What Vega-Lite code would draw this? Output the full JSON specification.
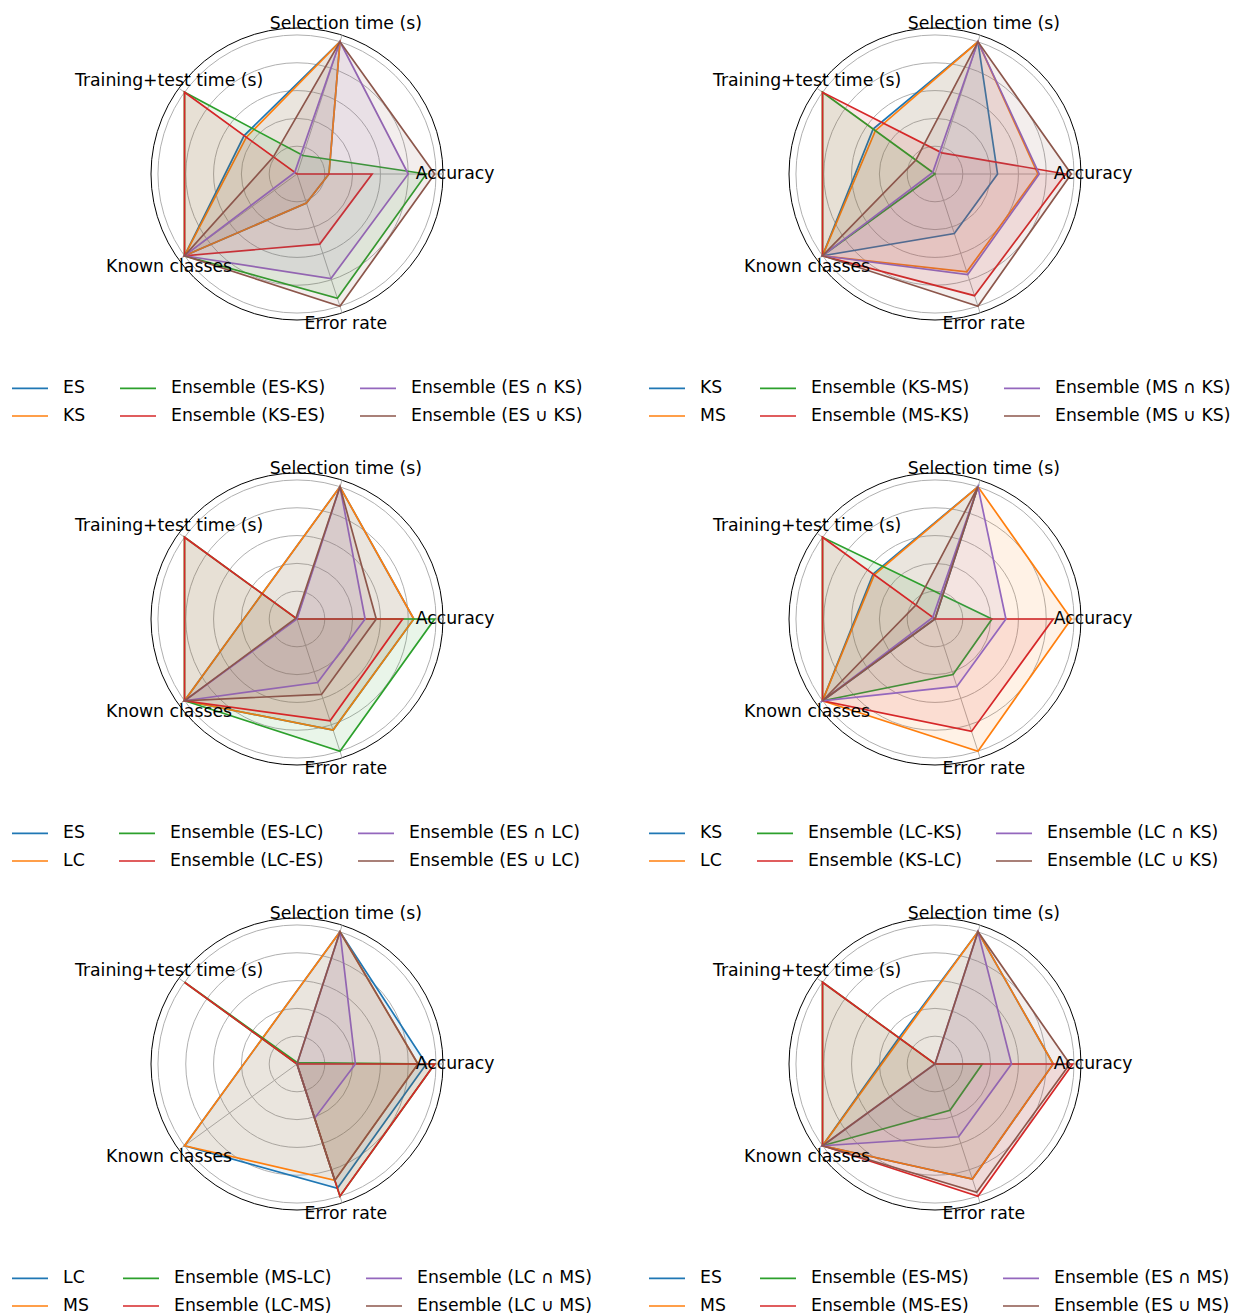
{
  "$schema": "https://vega.github.io/schema/vega-lite/v6.json",
  "background": "white",
  "padding": {"left": 11, "top": 14, "right": 5, "bottom": 5},
  "config": {"view": {"stroke": null}, "font": "DejaVu Sans"},
  "columns": 2,
  "spacing": {"row": 153, "column": 346},
  "bounds": "flush",
  "resolve": {"scale": {"stroke": "independent", "fill": "independent", "x": "independent", "y": "independent"}, "legend": {"stroke": "independent", "fill": "independent"}},
  "datasets": {
    "rings": [{"r": 0.2}, {"r": 0.4}, {"r": 0.6}, {"r": 0.8}, {"r": 1.0}, {"r": 1.05}],
    "metrics": [
      {"m": "Accuracy", "k": 0},
      {"m": "Selection time (s)", "k": 1},
      {"m": "Training+test time (s)", "k": 2},
      {"m": "Known classes", "k": 3},
      {"m": "Error rate", "k": 4}
    ],
    "radar": [
      {"p": 1, "s": "ES", "m": "Accuracy", "v": 0.23}, {"p": 1, "s": "ES", "m": "Selection time (s)", "v": 1.0}, {"p": 1, "s": "ES", "m": "Training+test time (s)", "v": 0.47}, {"p": 1, "s": "ES", "m": "Known classes", "v": 1.0}, {"p": 1, "s": "ES", "m": "Error rate", "v": 0.22},
      {"p": 1, "s": "KS", "m": "Accuracy", "v": 0.23}, {"p": 1, "s": "KS", "m": "Selection time (s)", "v": 1.0}, {"p": 1, "s": "KS", "m": "Training+test time (s)", "v": 0.45}, {"p": 1, "s": "KS", "m": "Known classes", "v": 1.0}, {"p": 1, "s": "KS", "m": "Error rate", "v": 0.22},
      {"p": 1, "s": "Ensemble (ES-KS)", "m": "Accuracy", "v": 0.93}, {"p": 1, "s": "Ensemble (ES-KS)", "m": "Selection time (s)", "v": 0.14}, {"p": 1, "s": "Ensemble (ES-KS)", "m": "Training+test time (s)", "v": 1.0}, {"p": 1, "s": "Ensemble (ES-KS)", "m": "Known classes", "v": 1.0}, {"p": 1, "s": "Ensemble (ES-KS)", "m": "Error rate", "v": 0.94},
      {"p": 1, "s": "Ensemble (KS-ES)", "m": "Accuracy", "v": 0.54}, {"p": 1, "s": "Ensemble (KS-ES)", "m": "Selection time (s)", "v": 0.0}, {"p": 1, "s": "Ensemble (KS-ES)", "m": "Training+test time (s)", "v": 1.0}, {"p": 1, "s": "Ensemble (KS-ES)", "m": "Known classes", "v": 1.0}, {"p": 1, "s": "Ensemble (KS-ES)", "m": "Error rate", "v": 0.53},
      {"p": 1, "s": "Ensemble (ES ∩ KS)", "m": "Accuracy", "v": 0.80}, {"p": 1, "s": "Ensemble (ES ∩ KS)", "m": "Selection time (s)", "v": 1.0}, {"p": 1, "s": "Ensemble (ES ∩ KS)", "m": "Training+test time (s)", "v": 0.02}, {"p": 1, "s": "Ensemble (ES ∩ KS)", "m": "Known classes", "v": 1.0}, {"p": 1, "s": "Ensemble (ES ∩ KS)", "m": "Error rate", "v": 0.79},
      {"p": 1, "s": "Ensemble (ES ∪ KS)", "m": "Accuracy", "v": 0.99}, {"p": 1, "s": "Ensemble (ES ∪ KS)", "m": "Selection time (s)", "v": 1.0}, {"p": 1, "s": "Ensemble (ES ∪ KS)", "m": "Training+test time (s)", "v": 0.21}, {"p": 1, "s": "Ensemble (ES ∪ KS)", "m": "Known classes", "v": 1.0}, {"p": 1, "s": "Ensemble (ES ∪ KS)", "m": "Error rate", "v": 1.0},

      {"p": 2, "s": "KS", "m": "Accuracy", "v": 0.45}, {"p": 2, "s": "KS", "m": "Selection time (s)", "v": 1.0}, {"p": 2, "s": "KS", "m": "Training+test time (s)", "v": 0.55}, {"p": 2, "s": "KS", "m": "Known classes", "v": 1.0}, {"p": 2, "s": "KS", "m": "Error rate", "v": 0.45},
      {"p": 2, "s": "MS", "m": "Accuracy", "v": 0.74}, {"p": 2, "s": "MS", "m": "Selection time (s)", "v": 1.0}, {"p": 2, "s": "MS", "m": "Training+test time (s)", "v": 0.53}, {"p": 2, "s": "MS", "m": "Known classes", "v": 1.0}, {"p": 2, "s": "MS", "m": "Error rate", "v": 0.74},
      {"p": 2, "s": "Ensemble (KS-MS)", "m": "Accuracy", "v": 0.0}, {"p": 2, "s": "Ensemble (KS-MS)", "m": "Selection time (s)", "v": 0.0}, {"p": 2, "s": "Ensemble (KS-MS)", "m": "Training+test time (s)", "v": 1.0}, {"p": 2, "s": "Ensemble (KS-MS)", "m": "Known classes", "v": 1.0}, {"p": 2, "s": "Ensemble (KS-MS)", "m": "Error rate", "v": 0.0},
      {"p": 2, "s": "Ensemble (MS-KS)", "m": "Accuracy", "v": 0.94}, {"p": 2, "s": "Ensemble (MS-KS)", "m": "Selection time (s)", "v": 0.16}, {"p": 2, "s": "Ensemble (MS-KS)", "m": "Training+test time (s)", "v": 1.0}, {"p": 2, "s": "Ensemble (MS-KS)", "m": "Known classes", "v": 1.0}, {"p": 2, "s": "Ensemble (MS-KS)", "m": "Error rate", "v": 0.92},
      {"p": 2, "s": "Ensemble (MS ∩ KS)", "m": "Accuracy", "v": 0.75}, {"p": 2, "s": "Ensemble (MS ∩ KS)", "m": "Selection time (s)", "v": 1.0}, {"p": 2, "s": "Ensemble (MS ∩ KS)", "m": "Training+test time (s)", "v": 0.02}, {"p": 2, "s": "Ensemble (MS ∩ KS)", "m": "Known classes", "v": 1.0}, {"p": 2, "s": "Ensemble (MS ∩ KS)", "m": "Error rate", "v": 0.76},
      {"p": 2, "s": "Ensemble (MS ∪ KS)", "m": "Accuracy", "v": 0.98}, {"p": 2, "s": "Ensemble (MS ∪ KS)", "m": "Selection time (s)", "v": 1.0}, {"p": 2, "s": "Ensemble (MS ∪ KS)", "m": "Training+test time (s)", "v": 0.17}, {"p": 2, "s": "Ensemble (MS ∪ KS)", "m": "Known classes", "v": 1.0}, {"p": 2, "s": "Ensemble (MS ∪ KS)", "m": "Error rate", "v": 1.0},

      {"p": 3, "s": "ES", "m": "Accuracy", "v": 0.84}, {"p": 3, "s": "ES", "m": "Selection time (s)", "v": 1.0}, {"p": 3, "s": "ES", "m": "Training+test time (s)", "v": 0.31}, {"p": 3, "s": "ES", "m": "Known classes", "v": 1.0}, {"p": 3, "s": "ES", "m": "Error rate", "v": 0.84},
      {"p": 3, "s": "LC", "m": "Accuracy", "v": 0.84}, {"p": 3, "s": "LC", "m": "Selection time (s)", "v": 1.0}, {"p": 3, "s": "LC", "m": "Training+test time (s)", "v": 0.31}, {"p": 3, "s": "LC", "m": "Known classes", "v": 1.0}, {"p": 3, "s": "LC", "m": "Error rate", "v": 0.84},
      {"p": 3, "s": "Ensemble (ES-LC)", "m": "Accuracy", "v": 0.99}, {"p": 3, "s": "Ensemble (ES-LC)", "m": "Selection time (s)", "v": 0.0}, {"p": 3, "s": "Ensemble (ES-LC)", "m": "Training+test time (s)", "v": 1.0}, {"p": 3, "s": "Ensemble (ES-LC)", "m": "Known classes", "v": 1.0}, {"p": 3, "s": "Ensemble (ES-LC)", "m": "Error rate", "v": 1.0},
      {"p": 3, "s": "Ensemble (LC-ES)", "m": "Accuracy", "v": 0.76}, {"p": 3, "s": "Ensemble (LC-ES)", "m": "Selection time (s)", "v": 0.0}, {"p": 3, "s": "Ensemble (LC-ES)", "m": "Training+test time (s)", "v": 1.0}, {"p": 3, "s": "Ensemble (LC-ES)", "m": "Known classes", "v": 1.0}, {"p": 3, "s": "Ensemble (LC-ES)", "m": "Error rate", "v": 0.77},
      {"p": 3, "s": "Ensemble (ES ∩ LC)", "m": "Accuracy", "v": 0.49}, {"p": 3, "s": "Ensemble (ES ∩ LC)", "m": "Selection time (s)", "v": 1.0}, {"p": 3, "s": "Ensemble (ES ∩ LC)", "m": "Training+test time (s)", "v": 0.0}, {"p": 3, "s": "Ensemble (ES ∩ LC)", "m": "Known classes", "v": 1.0}, {"p": 3, "s": "Ensemble (ES ∩ LC)", "m": "Error rate", "v": 0.48},
      {"p": 3, "s": "Ensemble (ES ∪ LC)", "m": "Accuracy", "v": 0.57}, {"p": 3, "s": "Ensemble (ES ∪ LC)", "m": "Selection time (s)", "v": 1.0}, {"p": 3, "s": "Ensemble (ES ∪ LC)", "m": "Training+test time (s)", "v": 0.01}, {"p": 3, "s": "Ensemble (ES ∪ LC)", "m": "Known classes", "v": 1.0}, {"p": 3, "s": "Ensemble (ES ∪ LC)", "m": "Error rate", "v": 0.57},

      {"p": 4, "s": "KS", "m": "Accuracy", "v": 0.0}, {"p": 4, "s": "KS", "m": "Selection time (s)", "v": 1.0}, {"p": 4, "s": "KS", "m": "Training+test time (s)", "v": 0.55}, {"p": 4, "s": "KS", "m": "Known classes", "v": 1.0}, {"p": 4, "s": "KS", "m": "Error rate", "v": 0.0},
      {"p": 4, "s": "LC", "m": "Accuracy", "v": 0.98}, {"p": 4, "s": "LC", "m": "Selection time (s)", "v": 1.0}, {"p": 4, "s": "LC", "m": "Training+test time (s)", "v": 0.54}, {"p": 4, "s": "LC", "m": "Known classes", "v": 1.0}, {"p": 4, "s": "LC", "m": "Error rate", "v": 1.0},
      {"p": 4, "s": "Ensemble (LC-KS)", "m": "Accuracy", "v": 0.41}, {"p": 4, "s": "Ensemble (LC-KS)", "m": "Selection time (s)", "v": 0.18}, {"p": 4, "s": "Ensemble (LC-KS)", "m": "Training+test time (s)", "v": 1.0}, {"p": 4, "s": "Ensemble (LC-KS)", "m": "Known classes", "v": 1.0}, {"p": 4, "s": "Ensemble (LC-KS)", "m": "Error rate", "v": 0.42},
      {"p": 4, "s": "Ensemble (KS-LC)", "m": "Accuracy", "v": 0.85}, {"p": 4, "s": "Ensemble (KS-LC)", "m": "Selection time (s)", "v": 0.0}, {"p": 4, "s": "Ensemble (KS-LC)", "m": "Training+test time (s)", "v": 1.0}, {"p": 4, "s": "Ensemble (KS-LC)", "m": "Known classes", "v": 1.0}, {"p": 4, "s": "Ensemble (KS-LC)", "m": "Error rate", "v": 0.85},
      {"p": 4, "s": "Ensemble (LC ∩ KS)", "m": "Accuracy", "v": 0.51}, {"p": 4, "s": "Ensemble (LC ∩ KS)", "m": "Selection time (s)", "v": 1.0}, {"p": 4, "s": "Ensemble (LC ∩ KS)", "m": "Training+test time (s)", "v": 0.02}, {"p": 4, "s": "Ensemble (LC ∩ KS)", "m": "Known classes", "v": 1.0}, {"p": 4, "s": "Ensemble (LC ∩ KS)", "m": "Error rate", "v": 0.51},
      {"p": 4, "s": "Ensemble (LC ∪ KS)", "m": "Accuracy", "v": 0.0}, {"p": 4, "s": "Ensemble (LC ∪ KS)", "m": "Selection time (s)", "v": 1.0}, {"p": 4, "s": "Ensemble (LC ∪ KS)", "m": "Training+test time (s)", "v": 0.17}, {"p": 4, "s": "Ensemble (LC ∪ KS)", "m": "Known classes", "v": 1.0}, {"p": 4, "s": "Ensemble (LC ∪ KS)", "m": "Error rate", "v": 0.0},

      {"p": 5, "s": "LC", "m": "Accuracy", "v": 0.93}, {"p": 5, "s": "LC", "m": "Selection time (s)", "v": 1.0}, {"p": 5, "s": "LC", "m": "Training+test time (s)", "v": 0.31}, {"p": 5, "s": "LC", "m": "Known classes", "v": 1.0}, {"p": 5, "s": "LC", "m": "Error rate", "v": 0.94},
      {"p": 5, "s": "MS", "m": "Accuracy", "v": 0.87}, {"p": 5, "s": "MS", "m": "Selection time (s)", "v": 1.0}, {"p": 5, "s": "MS", "m": "Training+test time (s)", "v": 0.31}, {"p": 5, "s": "MS", "m": "Known classes", "v": 1.0}, {"p": 5, "s": "MS", "m": "Error rate", "v": 0.88},
      {"p": 5, "s": "Ensemble (MS-LC)", "m": "Accuracy", "v": 0.99}, {"p": 5, "s": "Ensemble (MS-LC)", "m": "Selection time (s)", "v": 0.01}, {"p": 5, "s": "Ensemble (MS-LC)", "m": "Training+test time (s)", "v": 1.0}, {"p": 5, "s": "Ensemble (MS-LC)", "m": "Known classes", "v": 0.0}, {"p": 5, "s": "Ensemble (MS-LC)", "m": "Error rate", "v": 1.0},
      {"p": 5, "s": "Ensemble (LC-MS)", "m": "Accuracy", "v": 0.99}, {"p": 5, "s": "Ensemble (LC-MS)", "m": "Selection time (s)", "v": 0.0}, {"p": 5, "s": "Ensemble (LC-MS)", "m": "Training+test time (s)", "v": 1.0}, {"p": 5, "s": "Ensemble (LC-MS)", "m": "Known classes", "v": 0.0}, {"p": 5, "s": "Ensemble (LC-MS)", "m": "Error rate", "v": 1.0},
      {"p": 5, "s": "Ensemble (LC ∩ MS)", "m": "Accuracy", "v": 0.42}, {"p": 5, "s": "Ensemble (LC ∩ MS)", "m": "Selection time (s)", "v": 1.0}, {"p": 5, "s": "Ensemble (LC ∩ MS)", "m": "Training+test time (s)", "v": 0.0}, {"p": 5, "s": "Ensemble (LC ∩ MS)", "m": "Known classes", "v": 0.0}, {"p": 5, "s": "Ensemble (LC ∩ MS)", "m": "Error rate", "v": 0.41},
      {"p": 5, "s": "Ensemble (LC ∪ MS)", "m": "Accuracy", "v": 0.87}, {"p": 5, "s": "Ensemble (LC ∪ MS)", "m": "Selection time (s)", "v": 1.0}, {"p": 5, "s": "Ensemble (LC ∪ MS)", "m": "Training+test time (s)", "v": 0.0}, {"p": 5, "s": "Ensemble (LC ∪ MS)", "m": "Known classes", "v": 0.0}, {"p": 5, "s": "Ensemble (LC ∪ MS)", "m": "Error rate", "v": 0.88},

      {"p": 6, "s": "ES", "m": "Accuracy", "v": 0.85}, {"p": 6, "s": "ES", "m": "Selection time (s)", "v": 1.0}, {"p": 6, "s": "ES", "m": "Training+test time (s)", "v": 0.32}, {"p": 6, "s": "ES", "m": "Known classes", "v": 1.0}, {"p": 6, "s": "ES", "m": "Error rate", "v": 0.87},
      {"p": 6, "s": "MS", "m": "Accuracy", "v": 0.85}, {"p": 6, "s": "MS", "m": "Selection time (s)", "v": 1.0}, {"p": 6, "s": "MS", "m": "Training+test time (s)", "v": 0.31}, {"p": 6, "s": "MS", "m": "Known classes", "v": 1.0}, {"p": 6, "s": "MS", "m": "Error rate", "v": 0.87},
      {"p": 6, "s": "Ensemble (ES-MS)", "m": "Accuracy", "v": 0.34}, {"p": 6, "s": "Ensemble (ES-MS)", "m": "Selection time (s)", "v": 0.0}, {"p": 6, "s": "Ensemble (ES-MS)", "m": "Training+test time (s)", "v": 1.0}, {"p": 6, "s": "Ensemble (ES-MS)", "m": "Known classes", "v": 1.0}, {"p": 6, "s": "Ensemble (ES-MS)", "m": "Error rate", "v": 0.35},
      {"p": 6, "s": "Ensemble (MS-ES)", "m": "Accuracy", "v": 0.99}, {"p": 6, "s": "Ensemble (MS-ES)", "m": "Selection time (s)", "v": 0.0}, {"p": 6, "s": "Ensemble (MS-ES)", "m": "Training+test time (s)", "v": 1.0}, {"p": 6, "s": "Ensemble (MS-ES)", "m": "Known classes", "v": 1.0}, {"p": 6, "s": "Ensemble (MS-ES)", "m": "Error rate", "v": 1.0},
      {"p": 6, "s": "Ensemble (ES ∩ MS)", "m": "Accuracy", "v": 0.55}, {"p": 6, "s": "Ensemble (ES ∩ MS)", "m": "Selection time (s)", "v": 1.0}, {"p": 6, "s": "Ensemble (ES ∩ MS)", "m": "Training+test time (s)", "v": 0.0}, {"p": 6, "s": "Ensemble (ES ∩ MS)", "m": "Known classes", "v": 1.0}, {"p": 6, "s": "Ensemble (ES ∩ MS)", "m": "Error rate", "v": 0.55},
      {"p": 6, "s": "Ensemble (ES ∪ MS)", "m": "Accuracy", "v": 0.97}, {"p": 6, "s": "Ensemble (ES ∪ MS)", "m": "Selection time (s)", "v": 1.0}, {"p": 6, "s": "Ensemble (ES ∪ MS)", "m": "Training+test time (s)", "v": 0.0}, {"p": 6, "s": "Ensemble (ES ∪ MS)", "m": "Known classes", "v": 1.0}, {"p": 6, "s": "Ensemble (ES ∪ MS)", "m": "Error rate", "v": 0.97}
    ]
  },
  "concat": [
    {
      "width": 292, "height": 292,
      "layer": [
        {"data": {"name": "rings"}, "mark": {"type": "point", "shape": "circle", "filled": false, "strokeWidth": 1, "opacity": 1},
         "encoding": {"x": {"datum": 0, "type": "quantitative", "scale": {"domain": [-1.05, 1.05], "nice": false, "zero": false}, "axis": null}, "y": {"datum": 0, "type": "quantitative", "scale": {"domain": [-1.05, 1.05], "nice": false, "zero": false}, "axis": null},
           "size": {"field": "r", "type": "quantitative", "scale": {"type": "pow", "exponent": 2, "domain": [0, 1.05], "range": [0, 85264], "zero": true, "nice": false}, "legend": null}, "stroke": {"condition": {"test": "datum.r > 1.01", "value": "#000000"}, "value": "#b0b0b0"}}},
        {"data": {"name": "metrics"}, "transform": [{"calculate": "datum.k*2*PI/5", "as": "a"}, {"calculate": "1.05*cos(datum.a)", "as": "xe"}, {"calculate": "1.05*sin(datum.a)", "as": "ye"}],
         "mark": {"type": "rule", "color": "#b0b0b0", "strokeWidth": 1},
         "encoding": {"x": {"field": "xe", "type": "quantitative", "scale": {"domain": [-1.05, 1.05], "nice": false, "zero": false}, "axis": null}, "y": {"field": "ye", "type": "quantitative", "scale": {"domain": [-1.05, 1.05], "nice": false, "zero": false}, "axis": null}, "x2": {"datum": 0}, "y2": {"datum": 0}}},
        {"data": {"name": "radar"}, "transform": [{"filter": "datum.p == 1"}, {"calculate": "indexof(['Accuracy','Selection time (s)','Training+test time (s)','Known classes','Error rate'], datum.m)", "as": "k"}, {"calculate": "datum.k*2*PI/5", "as": "a"}, {"calculate": "datum.v*cos(datum.a)", "as": "x"}, {"calculate": "datum.v*sin(datum.a)", "as": "y"}],
         "mark": {"type": "line", "interpolate": "linear-closed", "strokeWidth": 1.7, "fillOpacity": 0.1},
         "encoding": {
           "x": {"field": "x", "type": "quantitative", "scale": {"domain": [-1.05, 1.05], "nice": false, "zero": false}, "axis": null},
           "y": {"field": "y", "type": "quantitative", "scale": {"domain": [-1.05, 1.05], "nice": false, "zero": false}, "axis": null},
           "order": {"field": "k", "type": "quantitative"},
           "stroke": {"field": "s", "type": "nominal", "scale": {"domain": ["ES", "KS", "Ensemble (ES-KS)", "Ensemble (KS-ES)", "Ensemble (ES ∩ KS)", "Ensemble (ES ∪ KS)"], "range": ["#1f77b4", "#ff7f0e", "#2ca02c", "#d62728", "#9467bd", "#8c564b"]},
             "legend": {"orient": "none", "direction": "vertical", "legendX": -140, "legendY": 341, "columns": 3, "title": null, "symbolType": "stroke", "symbolSize": 1296, "symbolStrokeWidth": 1.7, "labelFontSize": 17.3, "labelFont": "DejaVu Sans", "labelColor": "#000000", "labelOffset": 14, "columnPadding": 30, "rowPadding": 0, "labelLimit": 400}},
           "fill": {"field": "s", "type": "nominal", "scale": {"domain": ["Ensemble (ES ∪ KS)", "Ensemble (ES ∩ KS)", "Ensemble (KS-ES)", "Ensemble (ES-KS)", "KS", "ES"], "range": ["#8c564b", "#9467bd", "#d62728", "#2ca02c", "#ff7f0e", "#1f77b4"]}, "legend": null}
         }},
        {"data": {"name": "metrics"}, "transform": [{"calculate": "datum.k*2*PI/5", "as": "a"}, {"calculate": "1.137*cos(datum.a)", "as": "lx"}, {"calculate": "1.137*sin(datum.a)", "as": "ly"}],
         "mark": {"type": "text", "font": "DejaVu Sans", "fontSize": 17.3, "color": "#000000", "align": "center", "baseline": "middle"},
         "encoding": {"x": {"field": "lx", "type": "quantitative", "scale": {"domain": [-1.05, 1.05], "nice": false, "zero": false}, "axis": null}, "y": {"field": "ly", "type": "quantitative", "scale": {"domain": [-1.05, 1.05], "nice": false, "zero": false}, "axis": null}, "text": {"field": "m", "type": "nominal"}}}
      ]
    },
    {
      "width": 292, "height": 292,
      "layer": [
        {"data": {"name": "rings"}, "mark": {"type": "point", "shape": "circle", "filled": false, "strokeWidth": 1, "opacity": 1},
         "encoding": {"x": {"datum": 0, "type": "quantitative", "scale": {"domain": [-1.05, 1.05], "nice": false, "zero": false}, "axis": null}, "y": {"datum": 0, "type": "quantitative", "scale": {"domain": [-1.05, 1.05], "nice": false, "zero": false}, "axis": null},
           "size": {"field": "r", "type": "quantitative", "scale": {"type": "pow", "exponent": 2, "domain": [0, 1.05], "range": [0, 85264], "zero": true, "nice": false}, "legend": null}, "stroke": {"condition": {"test": "datum.r > 1.01", "value": "#000000"}, "value": "#b0b0b0"}}},
        {"data": {"name": "metrics"}, "transform": [{"calculate": "datum.k*2*PI/5", "as": "a"}, {"calculate": "1.05*cos(datum.a)", "as": "xe"}, {"calculate": "1.05*sin(datum.a)", "as": "ye"}],
         "mark": {"type": "rule", "color": "#b0b0b0", "strokeWidth": 1},
         "encoding": {"x": {"field": "xe", "type": "quantitative", "scale": {"domain": [-1.05, 1.05], "nice": false, "zero": false}, "axis": null}, "y": {"field": "ye", "type": "quantitative", "scale": {"domain": [-1.05, 1.05], "nice": false, "zero": false}, "axis": null}, "x2": {"datum": 0}, "y2": {"datum": 0}}},
        {"data": {"name": "radar"}, "transform": [{"filter": "datum.p == 2"}, {"calculate": "indexof(['Accuracy','Selection time (s)','Training+test time (s)','Known classes','Error rate'], datum.m)", "as": "k"}, {"calculate": "datum.k*2*PI/5", "as": "a"}, {"calculate": "datum.v*cos(datum.a)", "as": "x"}, {"calculate": "datum.v*sin(datum.a)", "as": "y"}],
         "mark": {"type": "line", "interpolate": "linear-closed", "strokeWidth": 1.7, "fillOpacity": 0.1},
         "encoding": {
           "x": {"field": "x", "type": "quantitative", "scale": {"domain": [-1.05, 1.05], "nice": false, "zero": false}, "axis": null},
           "y": {"field": "y", "type": "quantitative", "scale": {"domain": [-1.05, 1.05], "nice": false, "zero": false}, "axis": null},
           "order": {"field": "k", "type": "quantitative"},
           "stroke": {"field": "s", "type": "nominal", "scale": {"domain": ["KS", "MS", "Ensemble (KS-MS)", "Ensemble (MS-KS)", "Ensemble (MS ∩ KS)", "Ensemble (MS ∪ KS)"], "range": ["#1f77b4", "#ff7f0e", "#2ca02c", "#d62728", "#9467bd", "#8c564b"]},
             "legend": {"orient": "none", "direction": "vertical", "legendX": -141, "legendY": 341, "columns": 3, "title": null, "symbolType": "stroke", "symbolSize": 1296, "symbolStrokeWidth": 1.7, "labelFontSize": 17.3, "labelFont": "DejaVu Sans", "labelColor": "#000000", "labelOffset": 14, "columnPadding": 30, "rowPadding": 0, "labelLimit": 400}},
           "fill": {"field": "s", "type": "nominal", "scale": {"domain": ["Ensemble (MS ∪ KS)", "Ensemble (MS ∩ KS)", "Ensemble (MS-KS)", "Ensemble (KS-MS)", "MS", "KS"], "range": ["#8c564b", "#9467bd", "#d62728", "#2ca02c", "#ff7f0e", "#1f77b4"]}, "legend": null}
         }},
        {"data": {"name": "metrics"}, "transform": [{"calculate": "datum.k*2*PI/5", "as": "a"}, {"calculate": "1.137*cos(datum.a)", "as": "lx"}, {"calculate": "1.137*sin(datum.a)", "as": "ly"}],
         "mark": {"type": "text", "font": "DejaVu Sans", "fontSize": 17.3, "color": "#000000", "align": "center", "baseline": "middle"},
         "encoding": {"x": {"field": "lx", "type": "quantitative", "scale": {"domain": [-1.05, 1.05], "nice": false, "zero": false}, "axis": null}, "y": {"field": "ly", "type": "quantitative", "scale": {"domain": [-1.05, 1.05], "nice": false, "zero": false}, "axis": null}, "text": {"field": "m", "type": "nominal"}}}
      ]
    },
    {
      "width": 292, "height": 292,
      "layer": [
        {"data": {"name": "rings"}, "mark": {"type": "point", "shape": "circle", "filled": false, "strokeWidth": 1, "opacity": 1},
         "encoding": {"x": {"datum": 0, "type": "quantitative", "scale": {"domain": [-1.05, 1.05], "nice": false, "zero": false}, "axis": null}, "y": {"datum": 0, "type": "quantitative", "scale": {"domain": [-1.05, 1.05], "nice": false, "zero": false}, "axis": null},
           "size": {"field": "r", "type": "quantitative", "scale": {"type": "pow", "exponent": 2, "domain": [0, 1.05], "range": [0, 85264], "zero": true, "nice": false}, "legend": null}, "stroke": {"condition": {"test": "datum.r > 1.01", "value": "#000000"}, "value": "#b0b0b0"}}},
        {"data": {"name": "metrics"}, "transform": [{"calculate": "datum.k*2*PI/5", "as": "a"}, {"calculate": "1.05*cos(datum.a)", "as": "xe"}, {"calculate": "1.05*sin(datum.a)", "as": "ye"}],
         "mark": {"type": "rule", "color": "#b0b0b0", "strokeWidth": 1},
         "encoding": {"x": {"field": "xe", "type": "quantitative", "scale": {"domain": [-1.05, 1.05], "nice": false, "zero": false}, "axis": null}, "y": {"field": "ye", "type": "quantitative", "scale": {"domain": [-1.05, 1.05], "nice": false, "zero": false}, "axis": null}, "x2": {"datum": 0}, "y2": {"datum": 0}}},
        {"data": {"name": "radar"}, "transform": [{"filter": "datum.p == 3"}, {"calculate": "indexof(['Accuracy','Selection time (s)','Training+test time (s)','Known classes','Error rate'], datum.m)", "as": "k"}, {"calculate": "datum.k*2*PI/5", "as": "a"}, {"calculate": "datum.v*cos(datum.a)", "as": "x"}, {"calculate": "datum.v*sin(datum.a)", "as": "y"}],
         "mark": {"type": "line", "interpolate": "linear-closed", "strokeWidth": 1.7, "fillOpacity": 0.1},
         "encoding": {
           "x": {"field": "x", "type": "quantitative", "scale": {"domain": [-1.05, 1.05], "nice": false, "zero": false}, "axis": null},
           "y": {"field": "y", "type": "quantitative", "scale": {"domain": [-1.05, 1.05], "nice": false, "zero": false}, "axis": null},
           "order": {"field": "k", "type": "quantitative"},
           "stroke": {"field": "s", "type": "nominal", "scale": {"domain": ["ES", "LC", "Ensemble (ES-LC)", "Ensemble (LC-ES)", "Ensemble (ES ∩ LC)", "Ensemble (ES ∪ LC)"], "range": ["#1f77b4", "#ff7f0e", "#2ca02c", "#d62728", "#9467bd", "#8c564b"]},
             "legend": {"orient": "none", "direction": "vertical", "legendX": -140, "legendY": 341, "columns": 3, "title": null, "symbolType": "stroke", "symbolSize": 1296, "symbolStrokeWidth": 1.7, "labelFontSize": 17.3, "labelFont": "DejaVu Sans", "labelColor": "#000000", "labelOffset": 14, "columnPadding": 30, "rowPadding": 0, "labelLimit": 400}},
           "fill": {"field": "s", "type": "nominal", "scale": {"domain": ["Ensemble (ES ∪ LC)", "Ensemble (ES ∩ LC)", "Ensemble (LC-ES)", "Ensemble (ES-LC)", "LC", "ES"], "range": ["#8c564b", "#9467bd", "#d62728", "#2ca02c", "#ff7f0e", "#1f77b4"]}, "legend": null}
         }},
        {"data": {"name": "metrics"}, "transform": [{"calculate": "datum.k*2*PI/5", "as": "a"}, {"calculate": "1.137*cos(datum.a)", "as": "lx"}, {"calculate": "1.137*sin(datum.a)", "as": "ly"}],
         "mark": {"type": "text", "font": "DejaVu Sans", "fontSize": 17.3, "color": "#000000", "align": "center", "baseline": "middle"},
         "encoding": {"x": {"field": "lx", "type": "quantitative", "scale": {"domain": [-1.05, 1.05], "nice": false, "zero": false}, "axis": null}, "y": {"field": "ly", "type": "quantitative", "scale": {"domain": [-1.05, 1.05], "nice": false, "zero": false}, "axis": null}, "text": {"field": "m", "type": "nominal"}}}
      ]
    },
    {
      "width": 292, "height": 292,
      "layer": [
        {"data": {"name": "rings"}, "mark": {"type": "point", "shape": "circle", "filled": false, "strokeWidth": 1, "opacity": 1},
         "encoding": {"x": {"datum": 0, "type": "quantitative", "scale": {"domain": [-1.05, 1.05], "nice": false, "zero": false}, "axis": null}, "y": {"datum": 0, "type": "quantitative", "scale": {"domain": [-1.05, 1.05], "nice": false, "zero": false}, "axis": null},
           "size": {"field": "r", "type": "quantitative", "scale": {"type": "pow", "exponent": 2, "domain": [0, 1.05], "range": [0, 85264], "zero": true, "nice": false}, "legend": null}, "stroke": {"condition": {"test": "datum.r > 1.01", "value": "#000000"}, "value": "#b0b0b0"}}},
        {"data": {"name": "metrics"}, "transform": [{"calculate": "datum.k*2*PI/5", "as": "a"}, {"calculate": "1.05*cos(datum.a)", "as": "xe"}, {"calculate": "1.05*sin(datum.a)", "as": "ye"}],
         "mark": {"type": "rule", "color": "#b0b0b0", "strokeWidth": 1},
         "encoding": {"x": {"field": "xe", "type": "quantitative", "scale": {"domain": [-1.05, 1.05], "nice": false, "zero": false}, "axis": null}, "y": {"field": "ye", "type": "quantitative", "scale": {"domain": [-1.05, 1.05], "nice": false, "zero": false}, "axis": null}, "x2": {"datum": 0}, "y2": {"datum": 0}}},
        {"data": {"name": "radar"}, "transform": [{"filter": "datum.p == 4"}, {"calculate": "indexof(['Accuracy','Selection time (s)','Training+test time (s)','Known classes','Error rate'], datum.m)", "as": "k"}, {"calculate": "datum.k*2*PI/5", "as": "a"}, {"calculate": "datum.v*cos(datum.a)", "as": "x"}, {"calculate": "datum.v*sin(datum.a)", "as": "y"}],
         "mark": {"type": "line", "interpolate": "linear-closed", "strokeWidth": 1.7, "fillOpacity": 0.1},
         "encoding": {
           "x": {"field": "x", "type": "quantitative", "scale": {"domain": [-1.05, 1.05], "nice": false, "zero": false}, "axis": null},
           "y": {"field": "y", "type": "quantitative", "scale": {"domain": [-1.05, 1.05], "nice": false, "zero": false}, "axis": null},
           "order": {"field": "k", "type": "quantitative"},
           "stroke": {"field": "s", "type": "nominal", "scale": {"domain": ["KS", "LC", "Ensemble (LC-KS)", "Ensemble (KS-LC)", "Ensemble (LC ∩ KS)", "Ensemble (LC ∪ KS)"], "range": ["#1f77b4", "#ff7f0e", "#2ca02c", "#d62728", "#9467bd", "#8c564b"]},
             "legend": {"orient": "none", "direction": "vertical", "legendX": -141, "legendY": 341, "columns": 3, "title": null, "symbolType": "stroke", "symbolSize": 1296, "symbolStrokeWidth": 1.7, "labelFontSize": 17.3, "labelFont": "DejaVu Sans", "labelColor": "#000000", "labelOffset": 14, "columnPadding": 30, "rowPadding": 0, "labelLimit": 400}},
           "fill": {"field": "s", "type": "nominal", "scale": {"domain": ["Ensemble (LC ∪ KS)", "Ensemble (LC ∩ KS)", "Ensemble (KS-LC)", "Ensemble (LC-KS)", "LC", "KS"], "range": ["#8c564b", "#9467bd", "#d62728", "#2ca02c", "#ff7f0e", "#1f77b4"]}, "legend": null}
         }},
        {"data": {"name": "metrics"}, "transform": [{"calculate": "datum.k*2*PI/5", "as": "a"}, {"calculate": "1.137*cos(datum.a)", "as": "lx"}, {"calculate": "1.137*sin(datum.a)", "as": "ly"}],
         "mark": {"type": "text", "font": "DejaVu Sans", "fontSize": 17.3, "color": "#000000", "align": "center", "baseline": "middle"},
         "encoding": {"x": {"field": "lx", "type": "quantitative", "scale": {"domain": [-1.05, 1.05], "nice": false, "zero": false}, "axis": null}, "y": {"field": "ly", "type": "quantitative", "scale": {"domain": [-1.05, 1.05], "nice": false, "zero": false}, "axis": null}, "text": {"field": "m", "type": "nominal"}}}
      ]
    },
    {
      "width": 292, "height": 292,
      "layer": [
        {"data": {"name": "rings"}, "mark": {"type": "point", "shape": "circle", "filled": false, "strokeWidth": 1, "opacity": 1},
         "encoding": {"x": {"datum": 0, "type": "quantitative", "scale": {"domain": [-1.05, 1.05], "nice": false, "zero": false}, "axis": null}, "y": {"datum": 0, "type": "quantitative", "scale": {"domain": [-1.05, 1.05], "nice": false, "zero": false}, "axis": null},
           "size": {"field": "r", "type": "quantitative", "scale": {"type": "pow", "exponent": 2, "domain": [0, 1.05], "range": [0, 85264], "zero": true, "nice": false}, "legend": null}, "stroke": {"condition": {"test": "datum.r > 1.01", "value": "#000000"}, "value": "#b0b0b0"}}},
        {"data": {"name": "metrics"}, "transform": [{"calculate": "datum.k*2*PI/5", "as": "a"}, {"calculate": "1.05*cos(datum.a)", "as": "xe"}, {"calculate": "1.05*sin(datum.a)", "as": "ye"}],
         "mark": {"type": "rule", "color": "#b0b0b0", "strokeWidth": 1},
         "encoding": {"x": {"field": "xe", "type": "quantitative", "scale": {"domain": [-1.05, 1.05], "nice": false, "zero": false}, "axis": null}, "y": {"field": "ye", "type": "quantitative", "scale": {"domain": [-1.05, 1.05], "nice": false, "zero": false}, "axis": null}, "x2": {"datum": 0}, "y2": {"datum": 0}}},
        {"data": {"name": "radar"}, "transform": [{"filter": "datum.p == 5"}, {"calculate": "indexof(['Accuracy','Selection time (s)','Training+test time (s)','Known classes','Error rate'], datum.m)", "as": "k"}, {"calculate": "datum.k*2*PI/5", "as": "a"}, {"calculate": "datum.v*cos(datum.a)", "as": "x"}, {"calculate": "datum.v*sin(datum.a)", "as": "y"}],
         "mark": {"type": "line", "interpolate": "linear-closed", "strokeWidth": 1.7, "fillOpacity": 0.1},
         "encoding": {
           "x": {"field": "x", "type": "quantitative", "scale": {"domain": [-1.05, 1.05], "nice": false, "zero": false}, "axis": null},
           "y": {"field": "y", "type": "quantitative", "scale": {"domain": [-1.05, 1.05], "nice": false, "zero": false}, "axis": null},
           "order": {"field": "k", "type": "quantitative"},
           "stroke": {"field": "s", "type": "nominal", "scale": {"domain": ["LC", "MS", "Ensemble (MS-LC)", "Ensemble (LC-MS)", "Ensemble (LC ∩ MS)", "Ensemble (LC ∪ MS)"], "range": ["#1f77b4", "#ff7f0e", "#2ca02c", "#d62728", "#9467bd", "#8c564b"]},
             "legend": {"orient": "none", "direction": "vertical", "legendX": -140, "legendY": 341, "columns": 3, "title": null, "symbolType": "stroke", "symbolSize": 1296, "symbolStrokeWidth": 1.7, "labelFontSize": 17.3, "labelFont": "DejaVu Sans", "labelColor": "#000000", "labelOffset": 14, "columnPadding": 30, "rowPadding": 0, "labelLimit": 400}},
           "fill": {"field": "s", "type": "nominal", "scale": {"domain": ["Ensemble (LC ∪ MS)", "Ensemble (LC ∩ MS)", "Ensemble (LC-MS)", "Ensemble (MS-LC)", "MS", "LC"], "range": ["#8c564b", "#9467bd", "#d62728", "#2ca02c", "#ff7f0e", "#1f77b4"]}, "legend": null}
         }},
        {"data": {"name": "metrics"}, "transform": [{"calculate": "datum.k*2*PI/5", "as": "a"}, {"calculate": "1.137*cos(datum.a)", "as": "lx"}, {"calculate": "1.137*sin(datum.a)", "as": "ly"}],
         "mark": {"type": "text", "font": "DejaVu Sans", "fontSize": 17.3, "color": "#000000", "align": "center", "baseline": "middle"},
         "encoding": {"x": {"field": "lx", "type": "quantitative", "scale": {"domain": [-1.05, 1.05], "nice": false, "zero": false}, "axis": null}, "y": {"field": "ly", "type": "quantitative", "scale": {"domain": [-1.05, 1.05], "nice": false, "zero": false}, "axis": null}, "text": {"field": "m", "type": "nominal"}}}
      ]
    },
    {
      "width": 292, "height": 292,
      "layer": [
        {"data": {"name": "rings"}, "mark": {"type": "point", "shape": "circle", "filled": false, "strokeWidth": 1, "opacity": 1},
         "encoding": {"x": {"datum": 0, "type": "quantitative", "scale": {"domain": [-1.05, 1.05], "nice": false, "zero": false}, "axis": null}, "y": {"datum": 0, "type": "quantitative", "scale": {"domain": [-1.05, 1.05], "nice": false, "zero": false}, "axis": null},
           "size": {"field": "r", "type": "quantitative", "scale": {"type": "pow", "exponent": 2, "domain": [0, 1.05], "range": [0, 85264], "zero": true, "nice": false}, "legend": null}, "stroke": {"condition": {"test": "datum.r > 1.01", "value": "#000000"}, "value": "#b0b0b0"}}},
        {"data": {"name": "metrics"}, "transform": [{"calculate": "datum.k*2*PI/5", "as": "a"}, {"calculate": "1.05*cos(datum.a)", "as": "xe"}, {"calculate": "1.05*sin(datum.a)", "as": "ye"}],
         "mark": {"type": "rule", "color": "#b0b0b0", "strokeWidth": 1},
         "encoding": {"x": {"field": "xe", "type": "quantitative", "scale": {"domain": [-1.05, 1.05], "nice": false, "zero": false}, "axis": null}, "y": {"field": "ye", "type": "quantitative", "scale": {"domain": [-1.05, 1.05], "nice": false, "zero": false}, "axis": null}, "x2": {"datum": 0}, "y2": {"datum": 0}}},
        {"data": {"name": "radar"}, "transform": [{"filter": "datum.p == 6"}, {"calculate": "indexof(['Accuracy','Selection time (s)','Training+test time (s)','Known classes','Error rate'], datum.m)", "as": "k"}, {"calculate": "datum.k*2*PI/5", "as": "a"}, {"calculate": "datum.v*cos(datum.a)", "as": "x"}, {"calculate": "datum.v*sin(datum.a)", "as": "y"}],
         "mark": {"type": "line", "interpolate": "linear-closed", "strokeWidth": 1.7, "fillOpacity": 0.1},
         "encoding": {
           "x": {"field": "x", "type": "quantitative", "scale": {"domain": [-1.05, 1.05], "nice": false, "zero": false}, "axis": null},
           "y": {"field": "y", "type": "quantitative", "scale": {"domain": [-1.05, 1.05], "nice": false, "zero": false}, "axis": null},
           "order": {"field": "k", "type": "quantitative"},
           "stroke": {"field": "s", "type": "nominal", "scale": {"domain": ["ES", "MS", "Ensemble (ES-MS)", "Ensemble (MS-ES)", "Ensemble (ES ∩ MS)", "Ensemble (ES ∪ MS)"], "range": ["#1f77b4", "#ff7f0e", "#2ca02c", "#d62728", "#9467bd", "#8c564b"]},
             "legend": {"orient": "none", "direction": "vertical", "legendX": -141, "legendY": 341, "columns": 3, "title": null, "symbolType": "stroke", "symbolSize": 1296, "symbolStrokeWidth": 1.7, "labelFontSize": 17.3, "labelFont": "DejaVu Sans", "labelColor": "#000000", "labelOffset": 14, "columnPadding": 30, "rowPadding": 0, "labelLimit": 400}},
           "fill": {"field": "s", "type": "nominal", "scale": {"domain": ["Ensemble (ES ∪ MS)", "Ensemble (ES ∩ MS)", "Ensemble (MS-ES)", "Ensemble (ES-MS)", "MS", "ES"], "range": ["#8c564b", "#9467bd", "#d62728", "#2ca02c", "#ff7f0e", "#1f77b4"]}, "legend": null}
         }},
        {"data": {"name": "metrics"}, "transform": [{"calculate": "datum.k*2*PI/5", "as": "a"}, {"calculate": "1.137*cos(datum.a)", "as": "lx"}, {"calculate": "1.137*sin(datum.a)", "as": "ly"}],
         "mark": {"type": "text", "font": "DejaVu Sans", "fontSize": 17.3, "color": "#000000", "align": "center", "baseline": "middle"},
         "encoding": {"x": {"field": "lx", "type": "quantitative", "scale": {"domain": [-1.05, 1.05], "nice": false, "zero": false}, "axis": null}, "y": {"field": "ly", "type": "quantitative", "scale": {"domain": [-1.05, 1.05], "nice": false, "zero": false}, "axis": null}, "text": {"field": "m", "type": "nominal"}}}
      ]
    }
  ]
}
